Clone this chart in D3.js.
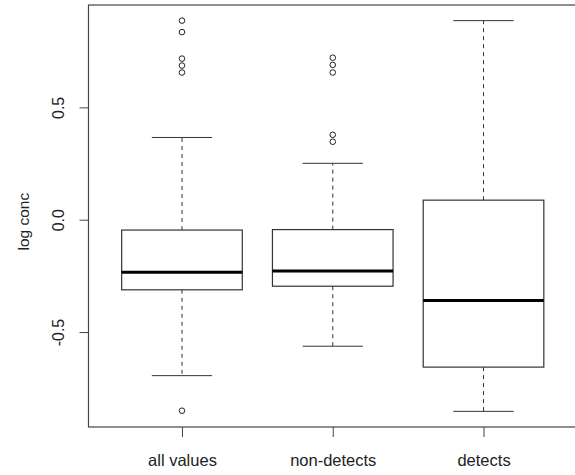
<!DOCTYPE html>
<html>
<head>
    <meta charset='utf-8'>
    <title>Boxplot log conc</title>
    <script src='https://cdn.jsdelivr.net/npm/d3@7'></script>
    <style>
        body { margin: 0; background: #fff; }
        text { font-family: 'Liberation Sans', Arial, sans-serif; fill: #222; }
    </style>
</head>
<body>
    <svg width='575' height='475'></svg>
    <script>
        // values
        const groups = ['all values', 'non-detects', 'detects']
        const whiskerLo = [-0.694, -0.563, -0.853]
        const q1 = [-0.312, -0.296, -0.656]
        const median = [-0.234, -0.228, -0.360]
        const q3 = [-0.046, -0.044, 0.087]
        const whiskerHi = [0.366, 0.251, 0.886]
        const outliers = [
            [0.886, 0.835, 0.717, 0.686, 0.655, -0.850],
            [0.721, 0.689, 0.655, 0.378, 0.347],
            []
        ]
        const yTicks = [-0.5, 0.0, 0.5]

        const svg = d3.select('svg')
        const plot = { left: 88.5, right: 577, top: 5, bottom: 427 }

        // R style 4% padding on both axes
        const allVals = whiskerLo.concat(whiskerHi, outliers.flat())
        const [lo, hi] = d3.extent(allVals)
        const pad = (hi - lo) * 0.04
        const y = d3.scaleLinear().domain([lo - pad, hi + pad]).range([plot.bottom, plot.top])
        const x = d3.scaleLinear().domain([0.38, groups.length + 0.62]).range([plot.left, plot.right])

        const boxW = x(1.4) - x(0.6)
        const capW = boxW / 2
        const line = '#333'

        // frame
        svg.append('rect')
            .attr('x', plot.left).attr('y', plot.top)
            .attr('width', plot.right - plot.left).attr('height', plot.bottom - plot.top)
            .attr('fill', 'none').attr('stroke', '#444').attr('stroke-width', 1.2)

        // y axis
        const yAxis = svg.append('g').attr('transform', `translate(${plot.left},0)`)
            .call(d3.axisLeft(y).tickValues(yTicks).tickSize(9).tickFormat(d => d.toFixed(1)))
        yAxis.select('.domain').remove()
        yAxis.selectAll('line').attr('stroke', '#444')
        yAxis.selectAll('text')
            .attr('font-size', 16)
            .attr('x', 0).attr('y', 0).attr('dy', 0)
            .attr('transform', 'translate(-25,0) rotate(-90)')
            .attr('text-anchor', 'middle')
            .style('font-family', "'Liberation Sans', Arial, sans-serif")
            .attr('fill', '#222')

        // x axis
        const xAxis = svg.append('g').attr('transform', `translate(0,${plot.bottom})`)
            .call(d3.axisBottom(x).tickValues(d3.range(1, groups.length + 1)).tickSize(10)
                .tickFormat(d => groups[d - 1]))
        xAxis.select('.domain').remove()
        xAxis.selectAll('line').attr('stroke', '#444')
        xAxis.selectAll('text')
            .attr('font-size', 16.5)
            .attr('y', 39).attr('dy', 0)
            .style('font-family', "'Liberation Sans', Arial, sans-serif")
            .attr('fill', '#222')

        // y label
        svg.append('text')
            .attr('transform', `translate(29,${(y(-0.5) + y(0.5)) / 2 + 2}) rotate(-90)`)
            .attr('text-anchor', 'middle')
            .attr('font-size', 15.5)
            .text('log conc')

        const idx = d3.range(groups.length)
        const g = svg.append('g')

        // whiskers (dashed)
        g.selectAll('.wup').data(idx).enter().append('line')
            .attr('x1', i => x(i + 1)).attr('x2', i => x(i + 1))
            .attr('y1', i => y(q3[i])).attr('y2', i => y(whiskerHi[i]))
            .attr('stroke', line).attr('stroke-dasharray', '4,4')
        g.selectAll('.wdn').data(idx).enter().append('line')
            .attr('x1', i => x(i + 1)).attr('x2', i => x(i + 1))
            .attr('y1', i => y(q1[i])).attr('y2', i => y(whiskerLo[i]))
            .attr('stroke', line).attr('stroke-dasharray', '4,4')

        // caps
        g.selectAll('.caphi').data(idx).enter().append('line')
            .attr('x1', i => x(i + 1) - capW / 2).attr('x2', i => x(i + 1) + capW / 2)
            .attr('y1', i => y(whiskerHi[i])).attr('y2', i => y(whiskerHi[i]))
            .attr('stroke', line)
        g.selectAll('.caplo').data(idx).enter().append('line')
            .attr('x1', i => x(i + 1) - capW / 2).attr('x2', i => x(i + 1) + capW / 2)
            .attr('y1', i => y(whiskerLo[i])).attr('y2', i => y(whiskerLo[i]))
            .attr('stroke', line)

        // boxes
        g.selectAll('.box').data(idx).enter().append('rect')
            .attr('x', i => x(i + 1) - boxW / 2)
            .attr('y', i => y(q3[i]))
            .attr('width', boxW)
            .attr('height', i => y(q1[i]) - y(q3[i]))
            .attr('fill', '#fff').attr('stroke', line).attr('stroke-width', 1.2)

        // medians
        g.selectAll('.med').data(idx).enter().append('line')
            .attr('x1', i => x(i + 1) - boxW / 2).attr('x2', i => x(i + 1) + boxW / 2)
            .attr('y1', i => y(median[i])).attr('y2', i => y(median[i]))
            .attr('stroke', '#000').attr('stroke-width', 3)

        // outliers
        const pts = idx.flatMap(i => outliers[i].map(v => ({ i, v })))
        g.selectAll('circle').data(pts).enter().append('circle')
            .attr('cx', d => x(d.i + 1)).attr('cy', d => y(d.v))
            .attr('r', 2.8)
            .attr('fill', 'none').attr('stroke', '#222').attr('stroke-width', 1)
    </script>
</body>
</html>
